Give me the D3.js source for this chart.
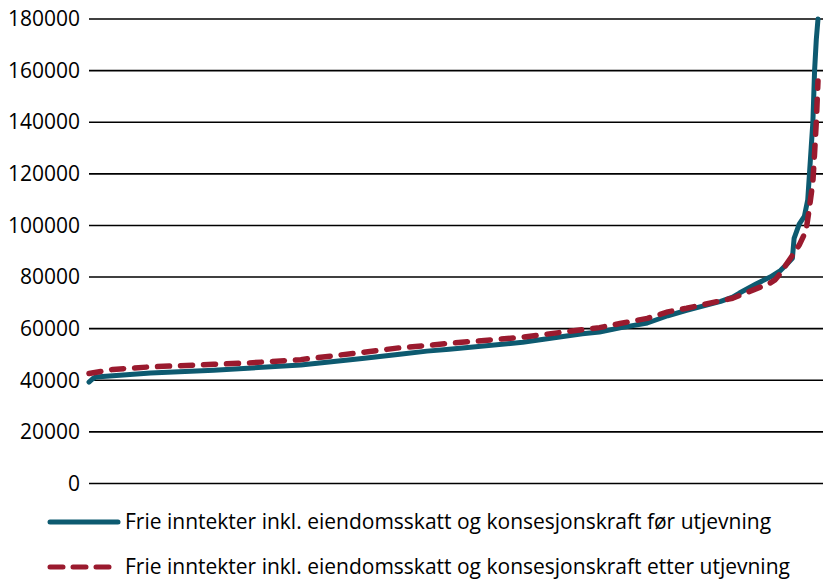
<!DOCTYPE html>
<html>
<head>
<meta charset="utf-8">
<script src="https://cdn.jsdelivr.net/npm/d3@7"></script>
<style>
  html, body { margin: 0; padding: 0; background: #fff; }
  svg { display: block; }
  text { font-family: "Open Sans", "Noto Sans", sans-serif; fill: #000; }
</style>
</head>
<body>
<svg id="chart" width="823" height="580"></svg>
<script>
// ---- data ----
const yTicks = [0, 20000, 40000, 60000, 80000, 100000, 120000, 140000, 160000, 180000];
const municipalityCount = 428;

const beforeRank = [1, 3, 5, 15, 37, 74, 94, 125, 161, 183, 199, 212, 255, 290, 300, 312, 328, 340, 351, 371, 378, 382, 392, 400, 406, 410, 413, 414, 417, 420, 422, 423, 424, 425, 426, 427, 428];
const beforeValues = [39300, 40500, 41300, 41800, 42800, 43900, 44700, 45900, 48400, 50100, 51300, 52000, 54700, 58000, 58700, 60300, 62200, 65000, 67100, 70600, 72200, 73800, 77400, 80000, 82500, 85200, 87300, 95000, 100500, 103500, 110000, 120000, 130000, 140000, 160000, 172000, 180000];

const afterRank = [1, 15, 37, 74, 94, 125, 161, 183, 199, 212, 255, 290, 300, 312, 328, 340, 351, 371, 378, 392, 400, 403, 406, 412, 417, 421, 423, 425, 426, 427, 428];
const afterValues = [42600, 44200, 45200, 46200, 46700, 48000, 50800, 52600, 53500, 54300, 56700, 59600, 60400, 62000, 64000, 66500, 67900, 70800, 71800, 75500, 77700, 79000, 81500, 87400, 92400, 98000, 107000, 117000, 128000, 140000, 156000];

const legendLabels = [
  "Frie inntekter inkl. eiendomsskatt og konsesjonskraft før utjevning",
  "Frie inntekter inkl. eiendomsskatt og konsesjonskraft etter utjevning"
];

const colorBefore = "#0d5a70";
const colorAfter = "#9a1a2e";

// ---- chart ----
const svg = d3.select("#chart");
const plotLeft = 89, plotRight = 823, lineRight = 818;
const x = d3.scaleLinear().domain([1, municipalityCount]).range([plotLeft, lineRight]);
const y = d3.scaleLinear().domain([0, 180000]).range([483.5, 19]);

// gridlines
svg.append("g").selectAll("line").data(yTicks).join("line")
  .attr("x1", plotLeft).attr("x2", plotRight)
  .attr("y1", d => y(d)).attr("y2", d => y(d))
  .attr("stroke", "#000").attr("stroke-width", 1.6);

// y axis labels
const yAxis = d3.axisLeft(y).tickValues(yTicks).tickSize(0).tickPadding(0).tickFormat(d3.format("d"));
const ga = svg.append("g").attr("transform", `translate(${plotLeft - 9},0)`).call(yAxis);
ga.select(".domain").remove();
ga.selectAll("text").attr("font-size", 21).attr("font-family", '"Open Sans", sans-serif').attr("fill", "#000");

const line = d3.line().x(d => x(d[0])).y(d => y(d[1]));

const beforeData = beforeRank.map((r, i) => [r, beforeValues[i]]);
const afterData = afterRank.map((r, i) => [r, afterValues[i]]);

svg.append("path").datum(beforeData)
  .attr("d", line)
  .attr("fill", "none").attr("stroke", colorBefore)
  .attr("stroke-width", 5).attr("stroke-linejoin", "round").attr("stroke-linecap", "round");

svg.append("path").datum(afterData)
  .attr("d", line)
  .attr("fill", "none").attr("stroke", colorAfter)
  .attr("stroke-width", 5.5).attr("stroke-linejoin", "round").attr("stroke-linecap", "round")
  .attr("stroke-dasharray", "12 11");

// legend
const lg = svg.append("g");
lg.append("line").attr("x1", 50).attr("x2", 118).attr("y1", 522).attr("y2", 522)
  .attr("stroke", colorBefore).attr("stroke-width", 5).attr("stroke-linecap", "round");
lg.append("line").attr("x1", 50).attr("x2", 110).attr("y1", 567).attr("y2", 567)
  .attr("stroke", colorAfter).attr("stroke-width", 5).attr("stroke-linecap", "round")
  .attr("stroke-dasharray", "13 10");
lg.selectAll("text").data(legendLabels).join("text")
  .attr("x", 125).attr("y", (d, i) => 522 + i * 45)
  .attr("dy", "0.35em").attr("font-size", 21)
  .text(d => d);
</script>
</body>
</html>
